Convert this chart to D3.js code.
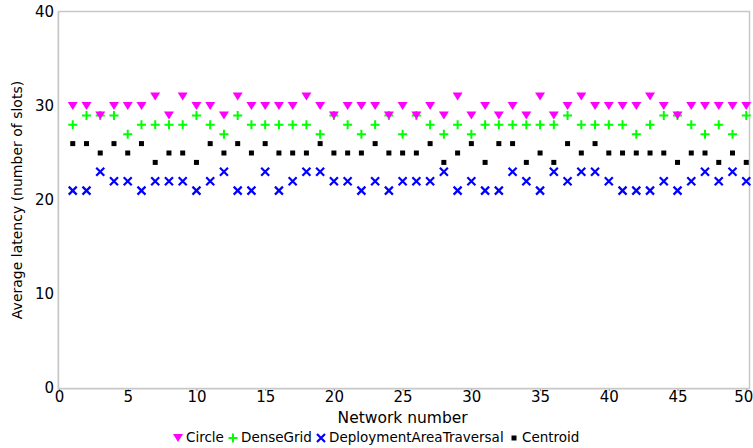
<!DOCTYPE html>
<html>
<head>
<meta charset="utf-8">
<script src="https://cdn.jsdelivr.net/npm/d3@7"></script>
<style>
  body { margin: 0; background: #fff; }
  svg text { font-family: "DejaVu Sans", sans-serif; }
</style>
</head>
<body>
<div id="vis"></div>
<script>
// frame constants
const FRAME_WIDTH = 753;
const FRAME_HEIGHT = 448;
const MARGINS = {left: 59, right: 4, top: 12, bottom: 60};

const VIS_WIDTH = FRAME_WIDTH - MARGINS.left - MARGINS.right;
const VIS_HEIGHT = FRAME_HEIGHT - MARGINS.top - MARGINS.bottom;

// data (network number 1..50)
const networks = d3.range(1, 51);
const circle = [30,30,29,30,30,30,31,29,31,30, 30,29,31,30,30,30,30,31,30,29,
                30,30,30,29,30,29,30,29,31,29, 30,29,30,29,31,29,30,31,30,30,
                30,30,31,30,29,30,30,30,30,30];
const denseGrid = [28,29,29,29,27,28,28,28,28,29, 28,27,29,28,28,28,28,28,27,29,
                   28,27,28,29,27,29,28,27,28,27, 28,28,28,28,28,28,29,28,28,28,
                   28,27,28,29,29,28,27,28,27,29];
const deployment = [21,21,23,22,22,21,22,22,22,21, 22,23,21,21,23,21,22,23,23,22,
                    22,21,22,21,22,22,22,23,21,22, 21,21,23,22,21,23,22,23,23,22,
                    21,21,21,22,21,22,23,22,23,22];
const centroid = [26,26,25,26,25,26,24,25,25,24, 26,25,26,25,26,25,25,25,26,25,
                  25,25,26,25,25,25,26,24,25,26, 24,26,26,24,25,24,26,25,26,25,
                  25,25,25,25,24,25,25,24,25,24];

const xTicks = [0, 5, 10, 15, 20, 25, 30, 35, 40, 45, 50];
const yTicks = [0, 10, 20, 30, 40];

const seriesNames = ["Circle", "DenseGrid", "DeploymentAreaTraversal", "Centroid"];
const seriesValues = [circle, denseGrid, deployment, centroid];
const seriesColors = ["#ff00ff", "#00ff00", "#0000ff", "#000000"];
const seriesShapes = ["tri", "plus", "cross", "square"];

const FRAME = d3.select("#vis").append("svg")
                .attr("width", FRAME_WIDTH)
                .attr("height", FRAME_HEIGHT);

const X_SCALE = d3.scaleLinear().domain([0, 50.2]).range([0, VIS_WIDTH]);
const Y_SCALE = d3.scaleLinear().domain([0, 40]).range([VIS_HEIGHT, 0]);

const plot = FRAME.append("g")
                  .attr("transform", "translate(" + MARGINS.left + "," + MARGINS.top + ")");

// plot border
plot.append("rect")
    .attr("x", -0.5).attr("y", -0.5)
    .attr("width", VIS_WIDTH + 1).attr("height", VIS_HEIGHT + 1)
    .attr("fill", "none").attr("stroke", "#c8c8c8").attr("stroke-width", 1.5);
plot.append("line")
    .attr("x1", -1.5).attr("x2", -1.5).attr("y1", 0).attr("y2", VIS_HEIGHT + 1)
    .attr("stroke", "#e2e2e2");
plot.append("line")
    .attr("x1", -1.5).attr("x2", VIS_WIDTH).attr("y1", VIS_HEIGHT + 1.5).attr("y2", VIS_HEIGHT + 1.5)
    .attr("stroke", "#e2e2e2");

// x axis
const xAxis = plot.append("g")
    .attr("transform", "translate(0," + (VIS_HEIGHT + 1) + ")")
    .call(d3.axisBottom(X_SCALE).tickValues(xTicks).tickSize(2).tickPadding(0));
xAxis.select(".domain").remove();
xAxis.selectAll("line").attr("stroke", "#999");
xAxis.selectAll("text").attr("font-size", "15px").attr("fill", "#000")
     .attr("font-family", "DejaVu Sans, sans-serif");
// keep the last label inside the window
xAxis.selectAll("text").filter(d => d === 50).attr("dx", "-3");

// y axis
const yAxis = plot.append("g")
    .call(d3.axisLeft(Y_SCALE).tickValues(yTicks).tickSize(0).tickPadding(5));
yAxis.select(".domain").remove();
yAxis.selectAll("text").attr("font-size", "15px").attr("fill", "#000")
     .attr("font-family", "DejaVu Sans, sans-serif");

// axis titles
FRAME.append("text")
     .attr("x", MARGINS.left + X_SCALE(25)).attr("y", 418)
     .attr("text-anchor", "middle").attr("dominant-baseline", "middle")
     .attr("font-size", "15.5px").text("Network number");
FRAME.append("text")
     .attr("transform", "translate(18," + (MARGINS.top + Y_SCALE(20)) + ") rotate(-90)")
     .attr("text-anchor", "middle").attr("dominant-baseline", "middle")
     .attr("font-size", "14px").text("Average latency (number of slots)");

// marker drawing
function drawMarker(sel, shape, color) {
  if (shape === "tri") {
    sel.append("path").attr("d", "M-5,-4L5,-4L0,4Z").attr("fill", color);
  } else if (shape === "plus") {
    sel.append("path").attr("d", "M-4.5,0H4.5M0,-4.5V4.5")
       .attr("stroke", color).attr("stroke-width", 2).attr("fill", "none");
  } else if (shape === "cross") {
    sel.append("path").attr("d", "M-4,-4L4,4M-4,4L4,-4")
       .attr("stroke", color).attr("stroke-width", 2.2).attr("fill", "none");
  } else {
    sel.append("rect").attr("x", -2.5).attr("y", -2.5)
       .attr("width", 5).attr("height", 5).attr("fill", color);
  }
}

// points, draw in reverse so Circle ends on top
for (let s = seriesNames.length - 1; s >= 0; s--) {
  const vals = seriesValues[s];
  plot.selectAll(".pt" + s)
      .data(networks)
      .enter()
      .append("g")
        .attr("class", "pt" + s)
        .attr("transform", (d, i) => "translate(" + X_SCALE(d) + "," + Y_SCALE(vals[i]) + ")")
        .each(function() { drawMarker(d3.select(this), seriesShapes[s], seriesColors[s]); });
}

// legend
const legendX = [178, 233, 321, 514];
const legend = FRAME.append("g").attr("transform", "translate(0,438)");
seriesNames.forEach((name, i) => {
  const item = legend.append("g").attr("transform", "translate(" + legendX[i] + ",0)");
  drawMarker(item, seriesShapes[i], seriesColors[i]);
  item.append("text").attr("x", 8).attr("y", 0)
      .attr("dominant-baseline", "middle")
      .attr("font-size", "13.5px").text(name);
});
</script>
</body>
</html>
